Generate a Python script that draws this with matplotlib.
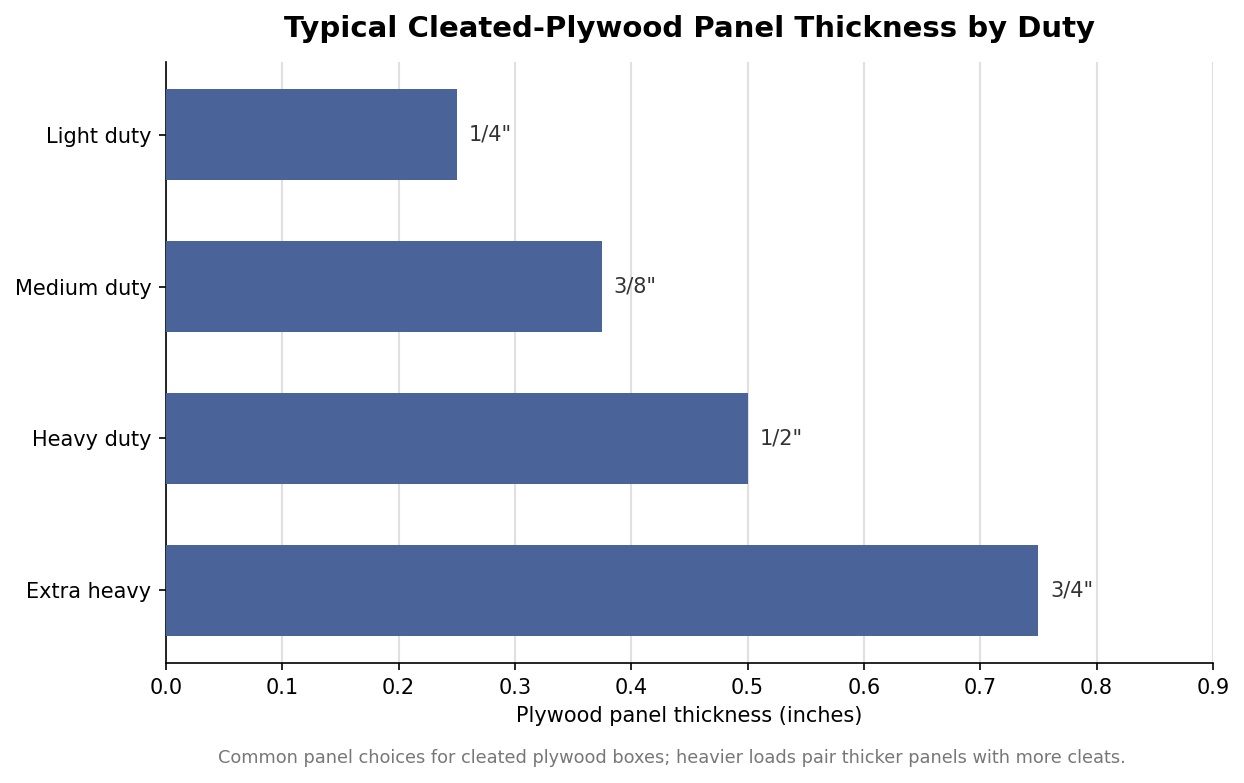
import matplotlib
matplotlib.use("Agg")
import matplotlib.pyplot as plt

categories = ["Light duty", "Medium duty", "Heavy duty", "Extra heavy"]
thickness = [0.25, 0.375, 0.5, 0.75]
labels = ['1/4"', '3/8"', '1/2"', '3/4"']

fig = plt.figure(figsize=(1244/150, 783/150), dpi=150)
ax = fig.add_axes([0.1334, 0.1533, 0.975 - 0.1334, 0.9208 - 0.1533])

y = list(range(len(categories)))
ax.barh(y, thickness, height=0.6, color="#4A6399", zorder=3)
ax.invert_yaxis()
ax.set_yticks(y)
ax.set_yticklabels(categories, fontsize=10)
for yi, v, lab in zip(y, thickness, labels):
    ax.text(v + 0.01, yi, lab, va="center", ha="left", fontsize=10, color="#333333")

ax.set_xlim(0, 0.9)
ax.set_xticks([i/10 for i in range(10)])
ax.set_xticklabels([f"{i/10:.1f}" for i in range(10)], fontsize=10)
ax.set_xlabel("Plywood panel thickness (inches)", fontsize=10)
ax.grid(axis="x", color="#e0e0e0", linewidth=1, zorder=0)
ax.spines["top"].set_visible(False)
ax.spines["right"].set_visible(False)
ax.set_title("Typical Cleated-Plywood Panel Thickness by Duty", fontsize=14, fontweight="bold", pad=12)
fig.text(0.540, 0.032, "Common panel choices for cleated plywood boxes; heavier loads pair thicker panels with more cleats.",
         ha="center", va="center", fontsize=8.5, color="#777777")
fig.savefig("out.png", dpi=150)
